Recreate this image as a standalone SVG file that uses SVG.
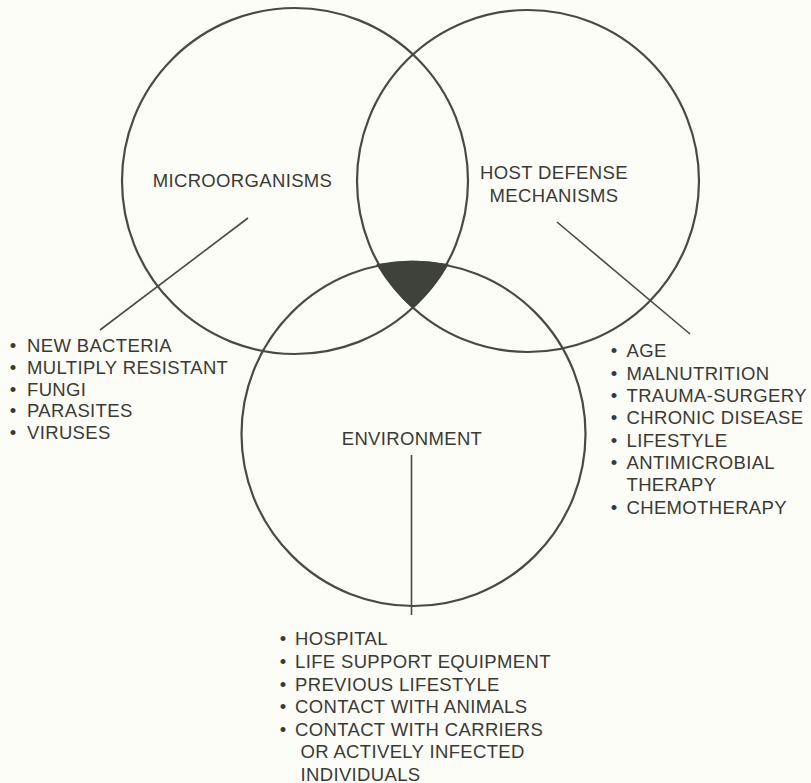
<svg xmlns="http://www.w3.org/2000/svg" width="811" height="783" viewBox="0 0 811 783">
<style>
.c{fill:none;stroke:#4a4a43;stroke-width:2.2}
.l{stroke:#4a4a43;stroke-width:1.6;fill:none}
text{font-family:"Liberation Sans",Arial,sans-serif;font-size:18.5px;fill:#3a3a35;letter-spacing:0.35px}
.b{text-anchor:middle;letter-spacing:0}
.m{text-anchor:middle}
</style>
<rect width="811" height="783" fill="#fdfdf8"/>
<g id="microorganisms">
<circle class="c" cx="295" cy="181" r="173"/>
<text class="m" x="242.5" y="186.5">MICROORGANISMS</text>
</g>
<g id="host-defense">
<circle class="c" cx="528" cy="181" r="171"/>
<text class="m" x="554" y="178.5">HOST DEFENSE</text>
<text class="m" x="554" y="201.5">MECHANISMS</text>
</g>
<g id="environment">
<circle class="c" cx="413.5" cy="434" r="172"/>
<text class="m" x="412" y="444.5">ENVIRONMENT</text>
</g>
<g id="intersection">
<path d="M377.5 264.8 A172 172 0 0 1 447.5 264.8 A173 173 0 0 1 413 307.5 A171 171 0 0 1 377.5 264.8 Z" fill="#3f413b" stroke="#3f413b" stroke-width="1.5"/>
</g>
<g id="connectors">
<line class="l" x1="248" y1="218" x2="100" y2="330"/>
<line class="l" x1="557" y1="222" x2="690" y2="334"/>
<line class="l" x1="411.5" y1="455" x2="411.5" y2="615"/>
</g>
<g id="microorganism-list">
<text class="b" x="13" y="352">•</text><text x="27" y="352">NEW BACTERIA</text>
<text class="b" x="13" y="373.5">•</text><text x="27" y="373.5">MULTIPLY RESISTANT</text>
<text class="b" x="13" y="395.5">•</text><text x="27" y="395.5">FUNGI</text>
<text class="b" x="13" y="417">•</text><text x="27" y="417">PARASITES</text>
<text class="b" x="13" y="439">•</text><text x="27" y="439">VIRUSES</text>
</g>
<g id="host-list">
<text class="b" x="614" y="357">•</text><text x="626.5" y="357">AGE</text>
<text class="b" x="614" y="379.5">•</text><text x="626.5" y="379.5">MALNUTRITION</text>
<text class="b" x="614" y="401.5">•</text><text x="626.5" y="401.5">TRAUMA-SURGERY</text>
<text class="b" x="614" y="424">•</text><text x="626.5" y="424">CHRONIC DISEASE</text>
<text class="b" x="614" y="446.5">•</text><text x="626.5" y="446.5">LIFESTYLE</text>
<text class="b" x="614" y="468.5">•</text><text x="626.5" y="468.5">ANTIMICROBIAL</text>
<text x="626.5" y="491">THERAPY</text>
<text class="b" x="614" y="513.5">•</text><text x="626.5" y="513.5">CHEMOTHERAPY</text>
</g>
<g id="environment-list">
<text class="b" x="283" y="645">•</text><text x="295" y="645">HOSPITAL</text>
<text class="b" x="283" y="668">•</text><text x="295" y="668">LIFE SUPPORT EQUIPMENT</text>
<text class="b" x="283" y="690.5">•</text><text x="295" y="690.5">PREVIOUS LIFESTYLE</text>
<text class="b" x="283" y="713">•</text><text x="295" y="713">CONTACT WITH ANIMALS</text>
<text class="b" x="283" y="735.5">•</text><text x="295" y="735.5">CONTACT WITH CARRIERS</text>
<text x="300.5" y="758">OR ACTIVELY INFECTED</text>
<text x="300.5" y="780.5">INDIVIDUALS</text>
</g>
</svg>
